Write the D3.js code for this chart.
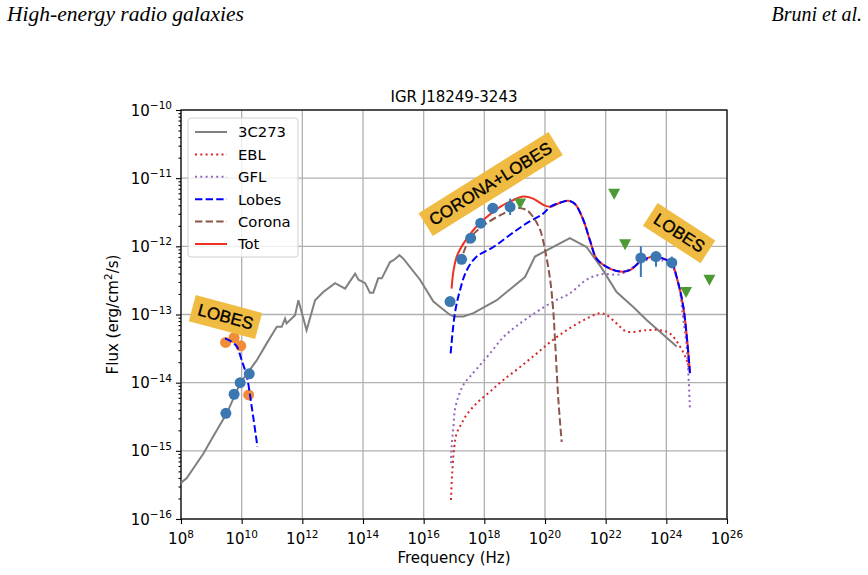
<!DOCTYPE html>
<html>
<head>
<meta charset="utf-8">
<script src="https://cdn.jsdelivr.net/npm/d3@7"></script>
<style>
body { margin: 0; background: #fff; }
svg text { font-family: "DejaVu Sans", sans-serif; }
</style>
</head>
<body>
<script>
// all values below are [log10(nu / Hz), log10(nuFnu / erg cm^-2 s^-1)]
var src3C273 = [[8.0,-15.47],[8.19,-15.40],[8.74,-15.04],[9.06,-14.79],[9.51,-14.45],[9.95,-14.01],[10.50,-13.67],
    [10.83,-13.42],[11.16,-13.18],[11.32,-13.18],[11.43,-13.06],[11.48,-13.13],[11.76,-13.01],[11.87,-12.79],
    [12.14,-13.23],[12.42,-12.79],[12.69,-12.67],[13.08,-12.54],[13.41,-12.62],[13.74,-12.40],[13.85,-12.49],
    [14.07,-12.54],[14.23,-12.68],[14.34,-12.68],[14.50,-12.47],[14.62,-12.47],[14.89,-12.23],[15.02,-12.20],
    [15.20,-12.13],[15.33,-12.18],[15.88,-12.49],[16.32,-12.81],[16.85,-13.00],[17.00,-13.03],[17.31,-13.03],
    [17.64,-12.98],[18.41,-12.79],[19.34,-12.45],[19.67,-12.15],[20.82,-11.88],[21.37,-12.01],[21.87,-12.32],
    [22.36,-12.67],[22.91,-12.89],[23.35,-13.08],[24.34,-13.47]];

var ebl = [[16.90,-15.72],[16.94,-15.33],[17.01,-14.94],[17.09,-14.74],[17.25,-14.60],[17.42,-14.47],[17.75,-14.30],
    [18.19,-14.13],[18.63,-13.96],[19.18,-13.77],[19.73,-13.57],[20.27,-13.37],[20.82,-13.20],[21.37,-13.06],
    [21.81,-12.98],[22.03,-13.01],[22.36,-13.13],[22.69,-13.25],[23.35,-13.23],[23.79,-13.23],[24.12,-13.28],
    [24.45,-13.47],[24.67,-13.67],[24.78,-13.86]];

var gfl = [[16.90,-15.18],[16.92,-14.94],[16.98,-14.65],[17.03,-14.40],[17.14,-14.21],[17.31,-14.03],[17.53,-13.91],
    [17.86,-13.74],[18.19,-13.57],[18.63,-13.33],[19.18,-13.13],[19.73,-12.96],[20.27,-12.81],[20.82,-12.69],
    [21.37,-12.49],[21.87,-12.41],[22.47,-12.41],[22.91,-12.30],[23.35,-12.20],[23.79,-12.20],[24.12,-12.25],
    [24.39,-12.54],[24.56,-13.08],[24.67,-13.47],[24.78,-14.40]];

var lobesRadio = [[9.45,-13.35],[9.67,-13.40],[9.84,-13.47],[10.0,-13.67],[10.17,-13.91],[10.33,-14.35],[10.52,-14.94]];

var lobesHigh = [[16.89,-13.57],[17.03,-12.98],[17.20,-12.64],[17.42,-12.35],[17.75,-12.15],[18.30,-12.01],
    [18.85,-11.83],[19.40,-11.66],[19.94,-11.52],[20.17,-11.42],[20.49,-11.36],[20.77,-11.33],[20.99,-11.38],
    [21.26,-11.61],[21.48,-11.91],[21.70,-12.18],[22.03,-12.30],[22.47,-12.37],[22.80,-12.35],[23.13,-12.23],
    [23.57,-12.15],[23.90,-12.18],[24.18,-12.25],[24.34,-12.45],[24.56,-12.89],[24.78,-13.86]];

var corona = [[17.20,-12.25],[17.53,-11.88],[18.08,-11.66],[18.63,-11.52],[19.07,-11.44],[19.40,-11.47],
    [19.61,-11.57],[19.84,-11.76],[20.00,-12.05],[20.17,-12.49],[20.27,-12.93],[20.33,-13.37],[20.44,-14.25],
    [20.55,-14.87]];

var tot = [[16.92,-12.62],[16.98,-12.37],[17.09,-12.15],[17.31,-11.96],[17.64,-11.76],[18.08,-11.57],[18.52,-11.42],
    [18.96,-11.32],[19.28,-11.27],[19.61,-11.30],[19.94,-11.39],[20.17,-11.42],[20.49,-11.36],[20.77,-11.33],
    [20.99,-11.38],[21.26,-11.61],[21.48,-11.91],[21.70,-12.18],[22.03,-12.30],[22.47,-12.37],[22.80,-12.35],
    [23.13,-12.23],[23.57,-12.15],[23.90,-12.18],[24.18,-12.25],[24.34,-12.45],[24.56,-12.89],[24.78,-13.86]];

// measured points: [logNu, logF, errLow, errHigh]
var bluePoints = [[9.48,-14.45],[9.75,-14.17],[9.95,-14.00],[10.25,-13.87],
    [16.87,-12.81],[17.25,-12.19],[17.55,-11.88],[17.88,-11.66],[18.28,-11.44],[18.85,-11.42,-11.54,-11.30],
    [23.16,-12.17,-12.45,-12.00],[23.66,-12.15,-12.30,-12.08],[24.18,-12.24,-12.32,-12.15]];
var orangePoints = [[9.47,-13.41],[9.75,-13.34],[9.97,-13.46],[10.23,-14.18]];
var upperLimits = [[19.18,-11.37],[22.28,-11.23],[22.64,-11.97],[24.65,-12.67],[25.42,-12.49]];

var xTicks = [8,10,12,14,16,18,20,22,24,26];
var yTicks = [-16,-15,-14,-13,-12,-11,-10];

var legendItems = [
    {name:"3C273", color:"#808080", dash:null},
    {name:"EBL", color:"#d62728", dash:"2,3.3"},
    {name:"GFL", color:"#9467bd", dash:"2,3.3"},
    {name:"Lobes", color:"#0000ff", dash:"7.4,3.2"},
    {name:"Corona", color:"#8c564b", dash:"7.4,3.2"},
    {name:"Tot", color:"#ee3124", dash:null}
];

var labels = [
    {text:"LOBES", at:[9.47,-13.03], angle:15},
    {text:"CORONA+LOBES", at:[18.2,-11.08], angle:-32},
    {text:"LOBES", at:[24.43,-11.8], angle:33}
];

window.onload = function(){
    var w = 868, h = 575;
    var left = 181, right = 727, top = 110, bottom = 519;

    var svg = d3.select("body").append("svg")
        .attr("width", w).attr("height", h);

    var x = d3.scaleLog().domain([1e8, 1e26]).range([left, right]);
    var y = d3.scaleLog().domain([1e-16, 1e-10]).range([bottom, top]);
    var px = function(v){ return x(Math.pow(10, v)); };
    var py = function(v){ return y(Math.pow(10, v)); };

    // page header
    svg.append("text").attr("x", 7).attr("y", 21)
        .attr("textLength", 237).attr("lengthAdjust", "spacingAndGlyphs")
        .style("font-family", "'Liberation Serif', serif").style("font-style", "italic")
        .style("font-size", "20px").text("High-energy radio galaxies");
    svg.append("text").attr("x", 862).attr("y", 21).attr("text-anchor", "end")
        .style("font-family", "'Liberation Serif', serif").style("font-style", "italic")
        .style("font-size", "20px").text("Bruni et al.");

    // grid
    svg.append("g").selectAll("line").data(xTicks).enter().append("line")
        .attr("x1", function(d){ return px(d); }).attr("x2", function(d){ return px(d); })
        .attr("y1", top).attr("y2", bottom)
        .style("stroke", "#b0b0b0").style("stroke-width", 1.3);
    svg.append("g").selectAll("line").data(yTicks).enter().append("line")
        .attr("y1", function(d){ return py(d); }).attr("y2", function(d){ return py(d); })
        .attr("x1", left).attr("x2", right)
        .style("stroke", "#b0b0b0").style("stroke-width", 1.3);

    // axes
    var xAxis = d3.axisBottom(x).tickValues(xTicks.map(function(d){ return Math.pow(10, d); }))
        .tickSize(5).tickSizeOuter(0).tickFormat("");
    svg.append("g").attr("transform", "translate(0," + bottom + ")").call(xAxis);
    var yMinor = [];
    for (var k = -16; k < -10; k++) for (var m = 2; m < 10; m++) yMinor.push(m * Math.pow(10, k));
    var yAxisMinor = d3.axisLeft(y).tickValues(yMinor).tickSize(2.5).tickSizeOuter(0).tickFormat("");
    svg.append("g").attr("transform", "translate(" + left + ",0)").call(yAxisMinor);
    var yAxis = d3.axisLeft(y).tickValues(yTicks.map(function(d){ return Math.pow(10, d); }))
        .tickSize(5).tickSizeOuter(0).tickFormat("");
    svg.append("g").attr("transform", "translate(" + left + ",0)").call(yAxis);
    svg.selectAll(".domain").remove();
    svg.selectAll(".tick line").style("stroke", "#000").style("stroke-width", 1.1);

    // tick labels with superscripts
    xTicks.forEach(function(d){
        var t = svg.append("text").attr("x", px(d)).attr("y", bottom + 25)
            .attr("text-anchor", "middle").style("font-size", "15px");
        t.append("tspan").text("10");
        t.append("tspan").attr("dy", -6.5).style("font-size", "10.5px").text(d);
    });
    yTicks.forEach(function(d){
        var t = svg.append("text").attr("x", left - 9).attr("y", py(d) + 5.5)
            .attr("text-anchor", "end").style("font-size", "15px");
        t.append("tspan").text("10");
        t.append("tspan").attr("dy", -6.5).style("font-size", "10.5px").text("\u2212" + (-d));
    });

    // frame
    svg.append("rect").attr("x", left).attr("y", top)
        .attr("width", right - left).attr("height", bottom - top)
        .style("fill", "none").style("stroke", "#000").style("stroke-width", 1.2);

    // titles
    svg.append("text").attr("x", (left + right) / 2).attr("y", top - 8)
        .attr("text-anchor", "middle").style("font-size", "15px").text("IGR J18249-3243");
    svg.append("text").attr("x", (left + right) / 2).attr("y", 563)
        .attr("text-anchor", "middle").style("font-size", "15px").text("Frequency (Hz)");
    var yl = svg.append("text").attr("transform", "translate(118," + ((top + bottom) / 2) + ") rotate(-90)")
        .attr("text-anchor", "middle").style("font-size", "15px");
    yl.append("tspan").text("Flux (erg/cm");
    yl.append("tspan").attr("dy", -6).style("font-size", "10.5px").text("2");
    yl.append("tspan").attr("dy", 6).text("/s)");

    var smooth = d3.line().x(function(d){ return px(d[0]); }).y(function(d){ return py(d[1]); })
        .curve(d3.curveCatmullRom.alpha(0.5));
    var straight = d3.line().x(function(d){ return px(d[0]); }).y(function(d){ return py(d[1]); });

    // orange radio points sit under the curves
    svg.append("g").selectAll("circle").data(orangePoints).enter().append("circle")
        .attr("cx", function(d){ return px(d[0]); }).attr("cy", function(d){ return py(d[1]); })
        .attr("r", 5.5).style("fill", "#f28c36");

    function addLine(data, gen, color, width, dash){
        svg.append("path").datum(data).attr("d", gen)
            .style("fill", "none").style("stroke", color).style("stroke-width", width)
            .style("stroke-dasharray", dash);
    }
    addLine(src3C273, straight, "#808080", 2, null);
    addLine(ebl, smooth, "#d62728", 2, "2,3.3");
    addLine(gfl, smooth, "#9467bd", 2, "2,3.3");
    addLine(tot, smooth, "#ee3124", 2, null);
    addLine(lobesRadio, smooth, "#0000ff", 2, "7.4,3.2");
    addLine(lobesHigh, smooth, "#0000ff", 2, "7.4,3.2");
    addLine(corona, smooth, "#8c564b", 2, "7.4,3.2");

    // error bars and blue points
    var errs = bluePoints.filter(function(d){ return d.length > 2; });
    svg.append("g").selectAll("line").data(errs).enter().append("line")
        .attr("x1", function(d){ return px(d[0]); }).attr("x2", function(d){ return px(d[0]); })
        .attr("y1", function(d){ return py(d[2]); }).attr("y2", function(d){ return py(d[3]); })
        .style("stroke", "#3b78b2").style("stroke-width", 2);
    svg.append("g").selectAll("circle").data(bluePoints).enter().append("circle")
        .attr("cx", function(d){ return px(d[0]); }).attr("cy", function(d){ return py(d[1]); })
        .attr("r", 5.5).style("fill", "#3b78b2");

    // upper limits
    svg.append("g").selectAll("path").data(upperLimits).enter().append("path")
        .attr("transform", function(d){ return "translate(" + px(d[0]) + "," + py(d[1]) + ")"; })
        .attr("d", "M-6,-5L6,-5L0,6Z").style("fill", "#4c9a34");

    // legend
    var lg = svg.append("g").attr("transform", "translate(188,118)");
    lg.append("rect").attr("width", 110).attr("height", 139).attr("rx", 3)
        .style("fill", "#fff").style("fill-opacity", 0.8).style("stroke", "#d0d0d0");
    var items = lg.selectAll(".item").data(legendItems).enter().append("g")
        .attr("class", "item")
        .attr("transform", function(d, i){ return "translate(0," + (14 + i * 22.4) + ")"; });
    items.append("line").attr("x1", 7).attr("x2", 39)
        .style("stroke", function(d){ return d.color; }).style("stroke-width", 2)
        .style("stroke-dasharray", function(d){ return d.dash; });
    items.append("text").attr("x", 50).attr("y", 5.3).style("font-size", "14.8px")
        .text(function(d){ return d.name; });

    // yellow annotation boxes
    var notes = svg.selectAll(".note").data(labels).enter().append("g")
        .attr("class", "note")
        .attr("transform", function(d){ return "translate(" + px(d.at[0]) + "," + py(d.at[1]) + ") rotate(" + d.angle + ")"; });
    notes.append("rect").style("fill", "#f0bb42");
    notes.append("text").attr("text-anchor", "middle").attr("y", 6)
        .style("font-family", "'Liberation Sans', Arial, sans-serif")
        .style("font-size", "17px").style("stroke", "#000").style("stroke-width", 0.35)
        .text(function(d){ return d.text; });
    notes.each(function(){
        var g = d3.select(this);
        var bb = g.select("text").node().getBBox();
        g.select("rect").attr("x", bb.x - 6).attr("y", bb.y - 4)
            .attr("width", bb.width + 12).attr("height", bb.height + 8);
    });
};
</script>
</body>
</html>
